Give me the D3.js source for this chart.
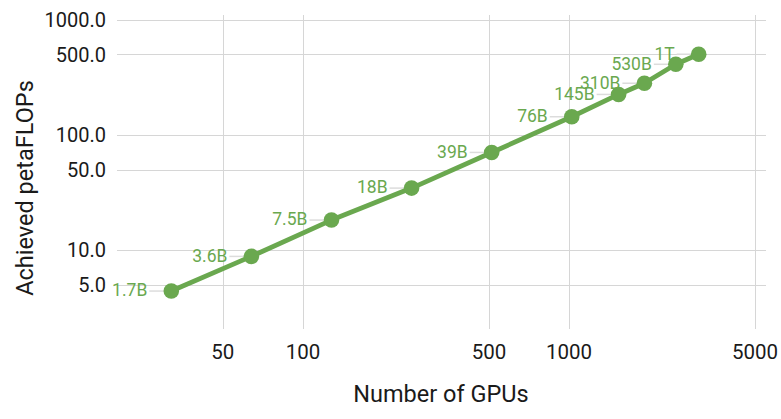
<!doctype html>
<html lang="en">
<head>
<meta charset="UTF-8">
<script src="https://d3js.org/d3.v7.min.js"></script>
<style>
body {
  margin: 0;
  background: #fff;
  font-family: Roboto, "Liberation Sans", sans-serif;
}
.grid line {
  stroke: #d6d6d6;
  stroke-width: 1.3px;
  shape-rendering: crispEdges;
}
.tick-label {
  fill: #1a1a1a;
}
.pt-label {
  fill: #6aa84f;
  font-size: 17.5px;
}
.leader {
  stroke: #dcdcdc;
  stroke-width: 1.5px;
}
</style>
<title></title>
</head>
<body>
<div id="chart"></div>
<script>
// chart data
var gpus       = [32, 64, 128, 256, 512, 1024, 1536, 1920, 2520, 3072];
var petaflops  = [4.4, 8.8, 18.2, 34.5, 70.4, 143.8, 224.6, 281.0, 410.4, 502.0];
var modelSizes = ["1.7B", "3.6B", "7.5B", "18B", "39B", "76B", "145B", "310B", "530B", "1T"];

var xTicks = [50, 100, 500, 1000, 5000];
var yTicks = [5, 10, 50, 100, 500, 1000];

var width = 781,
    height = 419,
    plot = {left: 117, right: 766, top: 15, bottom: 329},
    green = "#6aa84f";

var x = d3.scaleLog().domain([20, 5500]).range([plot.left, plot.right]);
var y = d3.scaleLog().domain([2.06, 1100]).range([plot.bottom, plot.top]);

var svg = d3.select("#chart").append("svg")
  .attr("width", width)
  .attr("height", height);

// horizontal grid
svg.append("g").attr("class", "grid")
  .selectAll("line")
  .data(yTicks)
  .enter().append("line")
  .attr("x1", plot.left)
  .attr("x2", plot.right)
  .attr("y1", function(d) { return Math.round(y(d)) + 0.5; })
  .attr("y2", function(d) { return Math.round(y(d)) + 0.5; });

// vertical grid
svg.append("g").attr("class", "grid")
  .selectAll("line")
  .data(xTicks)
  .enter().append("line")
  .attr("x1", function(d) { return Math.round(x(d)) + 0.5; })
  .attr("x2", function(d) { return Math.round(x(d)) + 0.5; })
  .attr("y1", plot.top)
  .attr("y2", plot.bottom);

// y tick labels
svg.append("g")
  .selectAll("text")
  .data(yTicks)
  .enter().append("text")
  .attr("class", "tick-label")
  .attr("x", 106)
  .attr("y", function(d) { return y(d); })
  .attr("dy", "0.36em")
  .attr("text-anchor", "end")
  .style("font-size", "20px")
  .text(function(d) { return d3.format(".1f")(d); });

// x tick labels
svg.append("g")
  .selectAll("text")
  .data(xTicks)
  .enter().append("text")
  .attr("class", "tick-label")
  .attr("x", function(d) { return x(d); })
  .attr("y", 359)
  .attr("text-anchor", "middle")
  .style("font-size", "20.5px")
  .text(function(d) { return d; });

// axis titles
svg.append("text")
  .attr("x", 441)
  .attr("y", 402)
  .attr("text-anchor", "middle")
  .style("font-size", "23.5px")
  .style("fill", "#1a1a1a")
  .text("Number of GPUs");

svg.append("text")
  .attr("transform", "translate(33,188) rotate(-90)")
  .attr("text-anchor", "middle")
  .style("font-size", "23.5px")
  .style("fill", "#1a1a1a")
  .text("Achieved petaFLOPs");

var pts = gpus.map(function(g, i) { return {g: g, p: petaflops[i], label: modelSizes[i]}; });

// leader lines from labels to points
svg.append("g")
  .selectAll("line")
  .data(pts)
  .enter().append("line")
  .attr("class", "leader")
  .attr("x1", function(d) { return x(d.g) - 22; })
  .attr("x2", function(d) { return x(d.g); })
  .attr("y1", function(d) { return y(d.p); })
  .attr("y2", function(d) { return y(d.p); });

// line
var line = d3.line()
  .x(function(d) { return x(d.g); })
  .y(function(d) { return y(d.p); });

svg.append("path")
  .datum(pts)
  .attr("d", line)
  .attr("fill", "none")
  .attr("stroke", green)
  .attr("stroke-width", 4.8)
  .attr("stroke-linejoin", "round");

svg.append("g")
  .selectAll("circle")
  .data(pts)
  .enter().append("circle")
  .attr("cx", function(d) { return x(d.g); })
  .attr("cy", function(d) { return y(d.p); })
  .attr("r", 7.8)
  .attr("fill", green);

// data labels
svg.append("g")
  .selectAll("text")
  .data(pts)
  .enter().append("text")
  .attr("class", "pt-label")
  .attr("x", function(d) { return x(d.g) - 24; })
  .attr("y", function(d) { return y(d.p) - 1; })
  .attr("dy", "0.36em")
  .attr("text-anchor", "end")
  .text(function(d) { return d.label; });
</script>
</body>
</html>
